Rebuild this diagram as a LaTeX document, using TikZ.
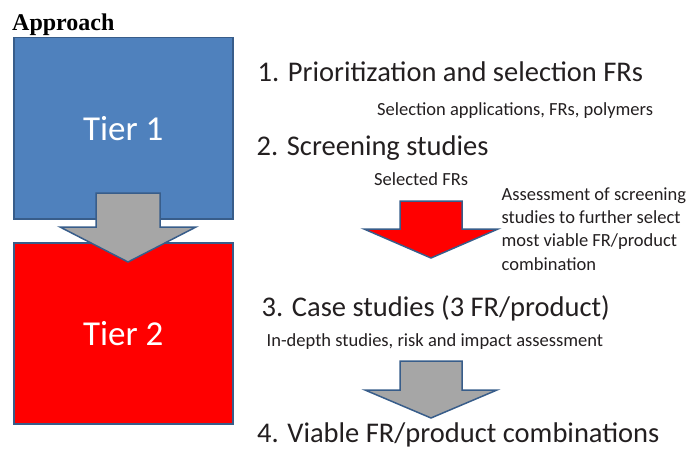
\documentclass[tikz,border=0pt]{standalone}
\usepackage{fontspec}
\setmainfont{Carlito}
\newfontfamily\titlefont{Liberation Serif}
\definecolor{tierblue}{HTML}{4F81BD}
\definecolor{edgeblue}{HTML}{385D8A}
\definecolor{arrowgray}{HTML}{A6A6A6}
\definecolor{inkgray}{HTML}{231F20}
\begin{document}
\begin{tikzpicture}[x=1pt,y=-1pt,
  tierbox/.style={draw=edgeblue, line width=1.5pt, inner sep=0pt, anchor=north west,
    minimum width=219pt, minimum height=181pt, text=white,
    font=\fontsize{35}{42}\selectfont},
  blockarrow/.style={draw=edgeblue, line width=1.5pt, line join=miter},
  heading/.style={anchor=base west, inner sep=0pt, text=inkgray,
    font=\fontsize{28.5}{34}\selectfont},
  note/.style={anchor=base west, inner sep=0pt, text=inkgray,
    font=\fontsize{18.5}{23.1}\selectfont}]
\useasboundingbox (0,0) rectangle (689,452);

% title
\node[anchor=base west, inner sep=0pt, font=\titlefont\bfseries\fontsize{24}{28}\selectfont]
  (title) at (12,30.5) {Approach};

% the two tiers
\node[tierbox, fill=tierblue] (tier1) at (13,37) {Tier 1};
\node[tierbox, fill=red] (tier2) at (13,242) {Tier 2};

% block arrow from tier 1 into tier 2
\draw[blockarrow, fill=arrowgray]
  (96,193) -- (160,193) -- (160,227) -- (196,227) -- (128,262) -- (60,227) -- (96,227) -- cycle;

% steps
\node[heading] (step1) at (257.5,82) {1. Prioritization and selection FRs};
\node[note] (sel1) at (377,116) {Selection applications, FRs, polymers};
\node[heading] (step2) at (256.5,156) {2. Screening studies};
\node[note] (sel2) at (374,185) {Selected FRs};

% screening-to-case-study arrow
\draw[blockarrow, fill=red]
  (400,201) -- (462,201) -- (462,229) -- (498,229) -- (431,258) -- (364,229) -- (400,229) -- cycle;
\node[note] (assess) at (501.5,200.7)
  {\begin{tabular}[t]{@{}l@{}}Assessment of screening\\studies to further select\\most viable FR/product\\combination\end{tabular}};

\node[heading] (step3) at (261.5,316) {3. Case studies (3 FR/product)};
\node[note] (sel3) at (266.5,346.5) {In-depth studies, risk and impact assessment};

% case-study-to-result arrow
\draw[blockarrow, fill=arrowgray]
  (400,361) -- (462,361) -- (462,390) -- (497,390) -- (431,418) -- (365,390) -- (400,390) -- cycle;

\node[heading] (step4) at (257,442) {4. Viable FR/product combinations};
\end{tikzpicture}
\end{document}
